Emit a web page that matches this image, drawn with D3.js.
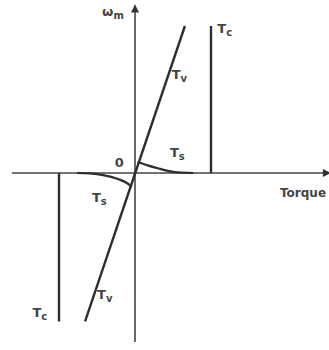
<!DOCTYPE html>
<html>
<head>
<meta charset="utf-8">
<script src="https://cdn.jsdelivr.net/npm/d3@7"></script>
<style>
	body { margin: 0; background: #fff; }
	svg { display: block; }
	text { font-family: "DejaVu Sans", sans-serif; font-weight: bold; fill: #454545; }
</style>
</head>
<body>
<div class="chart"></div>
<script>
// torque / speed values (torque in units where Tc = 3, speed where top = 1)
let tvLine = [[-1.97, -1.01], [1.97, 1.0]];
let tcRight = [[3, 0], [3, 1.0]];
let tcLeft = [[-3, 0], [-3, -1.01]];
let tsRight = [[0.1, 0.075], [0.5, 0.052], [0.9, 0.032], [1.3, 0.014], [1.7, 0.004], [2.3, 0]];
let tsLeft = [[-0.12, -0.095], [-0.32, -0.068], [-0.67, -0.041], [-1.26, -0.014], [-1.8, -0.003], [-2.29, 0]];
let torqueExtent = [-4.86, 7.7];
let speedExtent = [-1.15, 1.14];

// labels: text, subscript, torque, speed
let labels = [
	{ t: "ω", sub: "m", x: -1.3, y: 1.07 },
	{ t: "T", sub: "c", x: 3.25, y: 0.95 },
	{ t: "T", sub: "v", x: 1.45, y: 0.64 },
	{ t: "T", sub: "s", x: 1.38, y: 0.11 },
	{ t: "0", sub: "", x: -0.8, y: 0.04 },
	{ t: "T", sub: "s", x: -1.7, y: -0.2 },
	{ t: "T", sub: "v", x: -1.5, y: -0.86 },
	{ t: "T", sub: "c", x: -4.05, y: -0.98 }
];

let width = 329, height = 350;

let svg = d3.select(".chart")
	.append("svg")
	.attr("width", width)
	.attr("height", height);

let x = d3.scaleLinear().domain([-3, 3]).range([59, 211]);
let y = d3.scaleLinear().domain([-1, 1]).range([320, 26]);

svg.append("defs").append("marker")
	.attr("id", "arrow")
	.attr("viewBox", "0 0 10 10")
	.attr("refX", 9)
	.attr("refY", 5)
	.attr("markerWidth", 10)
	.attr("markerHeight", 8)
	.attr("markerUnits", "userSpaceOnUse")
	.attr("orient", "auto")
	.append("path")
	.attr("d", "M0,0L10,5L0,10z")
	.attr("fill", "#333");

let line = d3.line()
	.x(d => x(d[0]))
	.y(d => y(d[1]));
let curve = d3.line()
	.x(d => x(d[0]))
	.y(d => y(d[1]))
	.curve(d3.curveMonotoneX);

// axes
svg.append("line")
	.attr("x1", x(torqueExtent[0])).attr("x2", x(torqueExtent[1]))
	.attr("y1", y(0)).attr("y2", y(0))
	.attr("stroke", "#444").attr("stroke-width", 1.6)
	.attr("marker-end", "url(#arrow)");
svg.append("line")
	.attr("x1", x(0)).attr("x2", x(0))
	.attr("y1", y(speedExtent[0])).attr("y2", y(speedExtent[1]))
	.attr("stroke", "#444").attr("stroke-width", 1.6)
	.attr("marker-end", "url(#arrow)");

// characteristic lines
[tvLine, tcRight, tcLeft].forEach(d => {
	svg.append("path")
		.attr("d", line(d))
		.attr("fill", "none")
		.attr("stroke", "#2e2e2e")
		.attr("stroke-width", 2.4);
});
[tsRight, tsLeft.slice().reverse()].forEach(d => {
	svg.append("path")
		.attr("d", curve(d))
		.attr("fill", "none")
		.attr("stroke", "#2e2e2e")
		.attr("stroke-width", 2.2);
});

let lab = svg.selectAll(".lab")
	.data(labels)
	.enter().append("text")
	.attr("class", "lab")
	.attr("x", d => x(d.x))
	.attr("y", d => y(d.y))
	.style("font-size", "13px");
lab.append("tspan").text(d => d.t);
lab.append("tspan")
	.attr("dy", 3)
	.style("font-size", "10px")
	.text(d => d.sub);

svg.append("text")
	.attr("x", 280)
	.attr("y", y(0) + 24)
	.style("font-size", "12px")
	.text("Torque");
</script>
</body>
</html>
